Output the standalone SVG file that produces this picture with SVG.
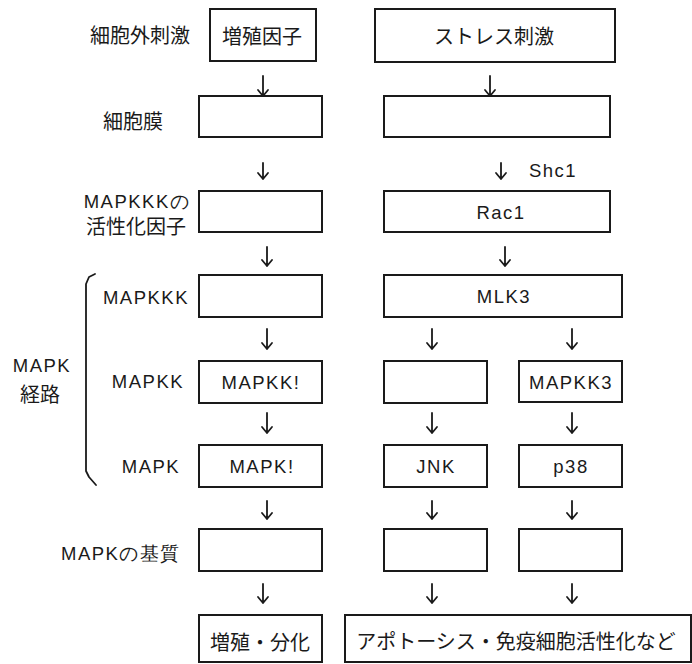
<svg xmlns="http://www.w3.org/2000/svg" width="692" height="664" viewBox="0 0 692 664">
<defs>
<style>
.box{fill:#fff;stroke:#1a1a1a;stroke-width:2}
.jp{font-family:"Noto Sans CJK JP","Noto Sans",sans-serif;font-size:20px;fill:#1a1a1a;text-anchor:middle;dominant-baseline:central}
.en{font-family:"Liberation Sans",Arial,sans-serif;font-size:18.5px;fill:#1a1a1a;text-anchor:middle;dominant-baseline:central;letter-spacing:1.5px}
.ar{fill:none;stroke:#1a1a1a;stroke-width:1.8;stroke-linecap:round;stroke-linejoin:round}
</style>
</defs>
<rect width="692" height="664" fill="#fff"/>
<g id="labels">
<text class="jp" x="140" y="34">細胞外刺激</text>
<text class="jp" x="133" y="120">細胞膜</text>
<text class="en" x="137" y="201">MAPKKKの</text>
<text class="jp" x="136" y="225">活性化因子</text>
<text class="en" x="146" y="297">MAPKKK</text>
<text class="en" x="148" y="381">MAPKK</text>
<text class="en" x="151" y="466">MAPK</text>
<text class="en" x="42" y="365">MAPK</text>
<text class="jp" x="40" y="393">経路</text>
<text class="en" x="121" y="553">MAPKの基質</text>
<path class="ar" d="M95,274 L89,277 L86,284 L86,471 L89,477 L96,485"/>
</g>
<g id="n_growth"><rect class="box" x="210" y="9" width="106" height="52"/><text class="jp" x="262" y="35">増殖因子</text></g>
<g id="n_stress"><rect class="box" x="375" y="9" width="240" height="53"/><text class="jp" x="494" y="35">ストレス刺激</text></g>
<g id="n_mem_l"><rect class="box" x="199" y="96" width="123" height="41"/></g>
<g id="n_mem_r"><rect class="box" x="384" y="96" width="226" height="41"/></g>
<g id="n_act_l"><rect class="box" x="199" y="191" width="123" height="41"/></g>
<g id="n_rac1"><rect class="box" x="384" y="191" width="226" height="41"/><text class="en" x="501" y="212">Rac1</text></g>
<g id="n_mapkkk_l"><rect class="box" x="199" y="275" width="123" height="42"/></g>
<g id="n_mlk3"><rect class="box" x="384" y="275" width="238" height="42"/><text class="en" x="504" y="296">MLK3</text></g>
<g id="n_mapkk_l"><rect class="box" x="199" y="361" width="123" height="42"/><text class="en" x="261" y="382">MAPKK!</text></g>
<g id="n_mapkk_m"><rect class="box" x="384" y="361" width="103" height="42"/></g>
<g id="n_mapkk3"><rect class="box" x="519" y="361" width="103" height="41"/><text class="en" x="571" y="382">MAPKK3</text></g>
<g id="n_mapk_l"><rect class="box" x="199" y="445" width="123" height="42"/><text class="en" x="262" y="466">MAPK!</text></g>
<g id="n_jnk"><rect class="box" x="384" y="445" width="103" height="42"/><text class="en" x="436" y="466">JNK</text></g>
<g id="n_p38"><rect class="box" x="519" y="445" width="103" height="42"/><text class="en" x="571" y="466">p38</text></g>
<g id="n_sub_l"><rect class="box" x="199" y="529" width="123" height="42"/></g>
<g id="n_sub_m"><rect class="box" x="384" y="529" width="103" height="42"/></g>
<g id="n_sub_r"><rect class="box" x="519" y="529" width="103" height="42"/></g>
<g id="n_prolif"><rect class="box" x="199" y="615" width="123" height="47"/><text class="jp" x="260" y="641">増殖・分化</text></g>
<g id="n_apop"><rect class="box" x="345" y="615" width="346" height="47"/><text class="jp" x="516" y="640">アポトーシス・免疫細胞活性化など</text></g>
<g id="connectors">
<path class="ar" d="M263,76 V96 M258,90 L263,96 L268,90"/>
<path class="ar" d="M490,76 V96 M485,90 L490,96 L495,90"/>
<path class="ar" d="M263,163 V179 M258,173 L263,179 L268,173"/>
<path class="ar" d="M501,163 V179 M496,173 L501,179 L506,173"/>
<text class="en" x="553" y="170">Shc1</text>
<path class="ar" d="M267,247 V266 M262,260 L267,266 L272,260"/>
<path class="ar" d="M505,247 V266 M500,260 L505,266 L510,260"/>
<path class="ar" d="M267,329 V349 M262,343 L267,349 L272,343"/>
<path class="ar" d="M432,329 V349 M427,343 L432,349 L437,343"/>
<path class="ar" d="M572,329 V349 M567,343 L572,349 L577,343"/>
<path class="ar" d="M267,413 V433 M262,427 L267,433 L272,427"/>
<path class="ar" d="M432,413 V433 M427,427 L432,433 L437,427"/>
<path class="ar" d="M572,413 V433 M567,427 L572,433 L577,427"/>
<path class="ar" d="M267,501 V519 M262,513 L267,519 L272,513"/>
<path class="ar" d="M432,501 V519 M427,513 L432,519 L437,513"/>
<path class="ar" d="M572,501 V519 M567,513 L572,519 L577,513"/>
<path class="ar" d="M263,584 V603 M258,597 L263,603 L268,597"/>
<path class="ar" d="M432,584 V603 M427,597 L432,603 L437,597"/>
<path class="ar" d="M572,584 V603 M567,597 L572,603 L577,597"/>
</g>
</svg>
